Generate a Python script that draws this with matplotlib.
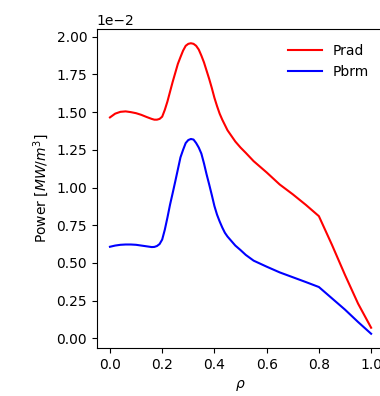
import numpy as np
import matplotlib
matplotlib.use('Agg')
import matplotlib.pyplot as plt

# radial profiles, values in units of 1e-2 MW/m^3
rho = [0.0, 0.02, 0.04, 0.06, 0.08, 0.10, 0.12, 0.14, 0.16, 0.17, 0.18, 0.19,
       0.20, 0.21, 0.22, 0.23, 0.24, 0.25, 0.26, 0.27, 0.28, 0.29, 0.30, 0.31,
       0.32, 0.33, 0.34, 0.35, 0.36, 0.37, 0.38, 0.39, 0.40, 0.41, 0.42, 0.43,
       0.44, 0.45, 0.46, 0.48, 0.50, 0.52, 0.55, 0.60, 0.65, 0.70, 0.75, 0.80,
       0.85, 0.90, 0.95, 1.0]
prad = [1.465, 1.49, 1.502, 1.505, 1.50, 1.493, 1.482, 1.468, 1.455, 1.45, 1.45, 1.455,
        1.47, 1.515, 1.57, 1.635, 1.70, 1.76, 1.82, 1.865, 1.908, 1.94, 1.953, 1.957,
        1.953, 1.94, 1.915, 1.875, 1.83, 1.775, 1.72, 1.66, 1.595, 1.54, 1.49, 1.45,
        1.415, 1.38, 1.355, 1.305, 1.265, 1.23, 1.175, 1.10, 1.02, 0.955, 0.885, 0.81,
        0.62, 0.42, 0.23, 0.07]
pbrm = [0.607, 0.615, 0.62, 0.622, 0.622, 0.62, 0.615, 0.61, 0.605, 0.606, 0.612, 0.625,
        0.655, 0.72, 0.80, 0.886, 0.962, 1.04, 1.12, 1.20, 1.25, 1.295, 1.315, 1.322,
        1.318, 1.295, 1.265, 1.225, 1.16, 1.087, 1.02, 0.95, 0.877, 0.82, 0.775, 0.735,
        0.70, 0.675, 0.655, 0.615, 0.585, 0.553, 0.515, 0.475, 0.437, 0.405, 0.373, 0.34,
        0.265, 0.19, 0.108, 0.03]

fig = plt.figure(figsize=(3.8, 3.96), dpi=100)
# axes run a little past the right edge, like the cropped original
ax = fig.add_axes([0.255, 0.1205, 0.756, 0.807])

ax.plot(rho, np.array(prad) * 1e-2, color='red', label='Prad')
ax.plot(rho, np.array(pbrm) * 1e-2, color='blue', label='Pbrm')

ax.ticklabel_format(axis='y', style='sci', scilimits=(0, 0))
ax.set_xlabel(r'$\rho$')
ax.set_ylabel(r'Power [$MW/m^3$]')
ax.legend(loc='upper right', frameon=False, handlelength=2.4, borderaxespad=0.7)

fig.savefig('out.png', dpi=100)
